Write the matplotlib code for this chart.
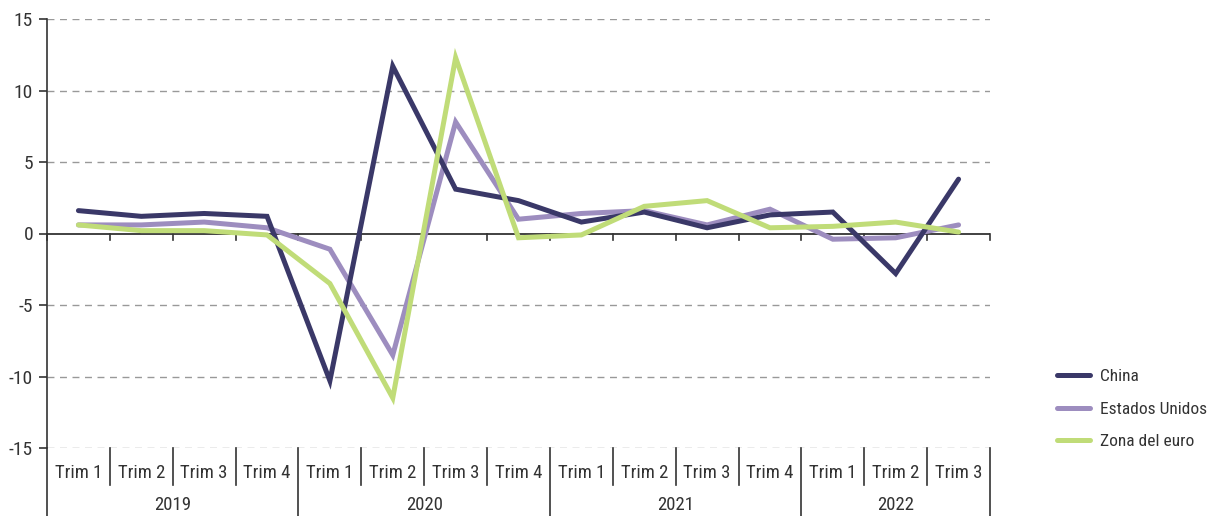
import matplotlib
matplotlib.use("Agg")
import matplotlib.pyplot as plt
import matplotlib.transforms as mtransforms
from matplotlib import font_manager

# pick a narrow font if there is one
names = {f.name for f in font_manager.fontManager.ttflist}
fam = [n for n in ["Liberation Sans Narrow", "Roboto Condensed", "Roboto", "DejaVu Sans"] if n in names]
plt.rcParams["font.family"] = fam
plt.rcParams["axes.unicode_minus"] = False

years = ["2019", "2020", "2021", "2022"]
quarters = ["Trim 1", "Trim 2", "Trim 3", "Trim 4",
            "Trim 1", "Trim 2", "Trim 3", "Trim 4",
            "Trim 1", "Trim 2", "Trim 3", "Trim 4",
            "Trim 1", "Trim 2", "Trim 3"]
china = [1.6, 1.2, 1.4, 1.2, -10.3, 11.7, 3.1, 2.3, 0.8, 1.5, 0.4, 1.3, 1.5, -2.8, 3.8]
eeuu = [0.6, 0.6, 0.8, 0.4, -1.1, -8.5, 7.8, 1.0, 1.4, 1.6, 0.6, 1.7, -0.4, -0.3, 0.6]
euro = [0.6, 0.2, 0.2, -0.1, -3.5, -11.5, 12.3, -0.3, -0.1, 1.9, 2.3, 0.4, 0.5, 0.8, 0.1]

fig = plt.figure(figsize=(12.28, 5.16), dpi=100)
ax = fig.add_axes([47 / 1228, 1 - 448 / 516, 943 / 1228, 429 / 516])

x = list(range(len(quarters)))
kw = dict(lw=3.6, solid_capstyle="round", solid_joinstyle="miter")
ax.plot(x, china, color="#3a3868", label="China", zorder=5, **kw)
ax.plot(x, eeuu, color="#9d8dbf", label="Estados Unidos", zorder=4, **kw)
ax.plot(x, euro, color="#c0dc78", label="Zona del euro", zorder=6, **kw)

ax.set_xlim(-0.5, len(quarters) - 0.5)
ax.set_ylim(-15, 15)
ax.set_yticks([-15, -10, -5, 0, 5, 10, 15])
for v in [-15, -10, -5, 5, 10, 15]:
    ax.axhline(v, color="#999999", lw=1, ls=(0, (5, 4)), zorder=1)

for s in ["top", "right", "bottom"]:
    ax.spines[s].set_visible(False)
ax.spines["left"].set_color("#333333")
ax.spines["left"].set_linewidth(1.2)
ax.axhline(0, color="#333333", lw=1.3, zorder=2)

ax.tick_params(axis="y", length=6, width=1.2, color="#333333", labelsize=14, labelcolor="#333333", pad=4)
ax.tick_params(axis="x", bottom=False, labelbottom=False)

# ticks on the zero line at category boundaries
for b in range(len(quarters) + 1):
    ax.plot([b - 0.5, b - 0.5], [0, -0.45], color="#333333", lw=1.2, zorder=2, clip_on=False)

# category labels under the plot
trans = mtransforms.blended_transform_factory(ax.transData, ax.transAxes)
for i, q in enumerate(quarters):
    ax.text(i, -0.058, q, transform=trans, ha="center", va="center", fontsize=13.5, color="#333333")
for b in range(len(quarters) + 1):
    low = -0.16 if b % 4 == 0 or b == len(quarters) else -0.086
    ax.plot([b - 0.5, b - 0.5], [0, low], transform=trans, color="#333333", lw=1.2, clip_on=False)
for j, y in enumerate(years):
    first = j * 4
    last = min(first + 3, len(quarters) - 1)
    ax.text((first + last) / 2, -0.133, y, transform=trans, ha="center", va="center",
            fontsize=13.5, color="#333333")

fig.legend(loc="center left", bbox_to_anchor=(1057 / 1228, 1 - 409 / 516), frameon=False,
           fontsize=12.5, handlelength=1.9, labelspacing=1.0, handletextpad=0.6,
           borderpad=0, borderaxespad=0, labelcolor="#333333")

fig.savefig("out.png", dpi=100)
